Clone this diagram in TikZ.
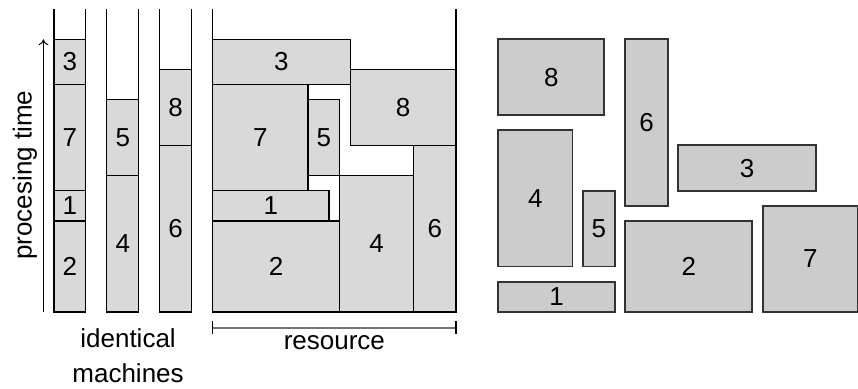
\documentclass[tikz,border=0pt]{standalone}
\usepackage{fontspec}
\setmainfont{Liberation Sans}
\usetikzlibrary{arrows.meta}
\begin{document}
\begin{tikzpicture}[x=5.29pt,y=7.575pt,
  font=\fontsize{13}{15}\selectfont,
  job/.style={draw=black,fill=black!15,line width=0.6pt},
  item/.style={draw=black!80,fill=black!20,line width=0.9pt},
  wall/.style={draw=black,line width=0.6pt},
  lbl/.style={inner sep=0pt}]
\useasboundingbox (-106.35pt,-38.5pt) rectangle (322.65pt,156pt);
% machines
\foreach \a in {-15,-10,-5} {
  \draw[wall] (\a,20) -- (\a,0) -- (\a+3,0) -- (\a+3,20);
}
\draw[job] (-15,15) rectangle node[lbl] (m3) {3} (-12,18);
\draw[job] (-15,8) rectangle node[lbl] (m7) {7} (-12,15);
\draw[job] (-15,6) rectangle node[lbl] (m1) {1} (-12,8);
\draw[job] (-15,0) rectangle node[lbl] (m2) {2} (-12,6);
\draw[job] (-10,9) rectangle node[lbl] (m5) {5} (-7,14);
\draw[job] (-10,0) rectangle node[lbl] (m4) {4} (-7,9);
\draw[job] (-5,11) rectangle node[lbl] (m8) {8} (-2,16);
\draw[job] (-5,0) rectangle node[lbl] (m6) {6} (-2,11);
% arrow
\coordinate (a0) at (-16,0);
\coordinate (a1) at (-16,18);
\draw[line width=0.5pt,-{To[length=3pt,width=5pt]}] (a0) -- (a1);
\node[rotate=90] (pt) at (-17.74,9.04) {procesing time};
\node (id) at (-8,-1.72) {identical};
\node (ma) at (-8,-4.03) {machines};
% resource strip
\draw[job] (0,15) rectangle node[lbl] (r3) {3} (13,18);
\draw[job] (13,11) rectangle node[lbl] (r8) {8} (23,16);
\draw[job] (0,8) rectangle node[lbl] (r7) {7} (9,15);
\draw[job] (9,9) rectangle node[lbl] (r5) {5} (12,14);
\draw[job] (0,6) rectangle node[lbl] (r1) {1} (11,8);
\draw[job] (0,0) rectangle node[lbl] (r2) {2} (12,6);
\draw[job] (12,0) rectangle node[lbl] (r4) {4} (19,9);
\draw[job] (19,0) rectangle node[lbl] (r6) {6} (23,11);
\draw[wall] (0,20) -- (0,0) -- (23,0) -- (23,20);
% bracket
\coordinate (b0) at (0,-1.04);
\coordinate (b1) at (23,-1.04);
\draw[black!55,line width=0.9pt] (b0) -- (b1);
\draw[black,line width=0.6pt] ([yshift=-3.35pt]b0) -- ([yshift=3.35pt]b0);
\draw[black,line width=0.6pt] ([yshift=-3.35pt]b1) -- ([yshift=3.35pt]b1);
\node (rs) at (11.5,-2.05) {resource};
% items
\draw[item] (27,13) rectangle node[lbl] (i8) {8} (37,18);
\draw[item] (27,3) rectangle node[lbl] (i4) {4} (34,12);
\draw[item] (35,3) rectangle node[lbl] (i5) {5} (38,8);
\draw[item] (27,0) rectangle node[lbl] (i1) {1} (38,2);
\draw[item] (39,7) rectangle node[lbl] (i6) {6} (43,18);
\draw[item] (44,8) rectangle node[lbl] (i3) {3} (57,11);
\draw[item] (39,0) rectangle node[lbl] (i2) {2} (51,6);
\draw[item] (52,0) rectangle node[lbl] (i7) {7} (61,7);
\end{tikzpicture}
\end{document}
